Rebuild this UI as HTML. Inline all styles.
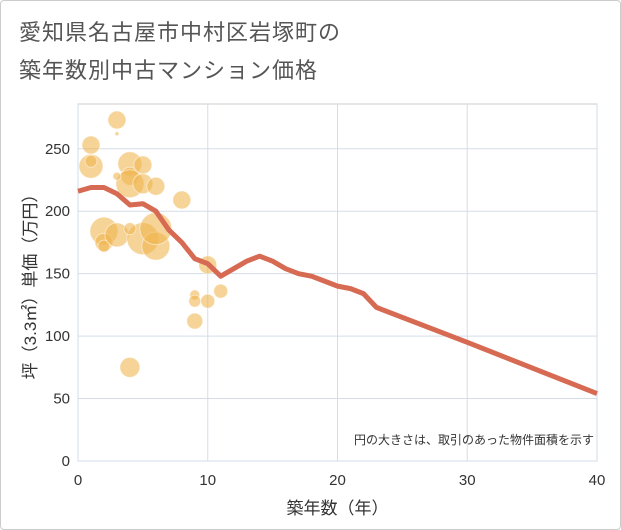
<!DOCTYPE html>
<html><head><meta charset="utf-8"><style>
body{margin:0;background:#fff;font-family:"Liberation Sans","Noto Sans CJK JP",sans-serif}
#wrap{position:relative;width:619px;height:528px;border:1px solid #ccc;border-radius:4px;overflow:hidden}
.t{position:absolute;left:18px;font-size:22px;color:#555;letter-spacing:1px}
</style></head><body>
<div id="wrap">
<div class="t" style="top:14px">愛知県名古屋市中村区岩塚町の</div>
<div class="t" style="top:52px">築年数別中古マンション価格</div>
<svg id="c" width="621" height="530" style="position:absolute;left:-1px;top:-1px"></svg>
</div>
<script>
const lineYears=[0,1,2,3,4,5,6,7,8,9,10,11,12,13,14,15,16,17,18,19,20,21,22,23,30,40];
const lineValues=[216,219,219,214,205,206,200,185,175,162,158,148,154,160,164,160,154,150,148,144,140,138,134,123,95,54];
const bubbleYears=[1,1,1,3,3,2,2,2,3,4,4,5,4,5,6,3,8,5,6,6,4,10,9,9,10,11,9,4];
const bubbleValues=[253,236,240,273,262,184,175,172,181,238,228,237,222,222,220,228,209,178,172,186,186,157,133,128,128,136,112,75];
const bubbleSizes=[9,12,6,9,2,14,9,6,12,12,9,9,14,10,9,4,9,16,14,16,6,9,5,6,7,7,8,10];
const xTicks=[0,10,20,30,40];
const yTicks=[0,50,100,150,200,250];
const NS="http://www.w3.org/2000/svg";
const svg=document.getElementById('c');
const X0=78,X1=597,Y0=461,YT=104;
const xs=v=>X0+(v/40)*(X1-X0);
const ys=v=>Y0-v*1.249;
function mk(t,a){const e=document.createElementNS(NS,t);for(const k in a)e.setAttribute(k,a[k]);svg.appendChild(e);return e;}
let bg=mk('rect',{x:X0,y:YT,width:X1-X0,height:Y0-YT,fill:'#fff',stroke:'#ccc'});


xTicks.forEach(v=>{
 const g=mk('line',{x1:xs(v),x2:xs(v),y1:YT,y2:Y0,stroke:'#d3dde8'});
 
 
 const t=mk('text',{x:xs(v),y:Y0+24,'text-anchor':'middle','font-size':15,fill:'#333'});
 t.textContent=v;
 
 
});
yTicks.forEach(v=>{
 const g=mk('line',{x1:X0,x2:X1,y1:ys(v),y2:ys(v),stroke:'#d3dde8'});
 
 
 const t=mk('text',{x:X0-8,y:ys(v)+5,'text-anchor':'end','font-size':15,fill:'#333'});
 t.textContent=v;
 
 
});
bubbleYears.forEach((yr,i)=>{
 const c=mk('circle',{cx:xs(yr),cy:ys(bubbleValues[i]),r:bubbleSizes[i],fill:'#f0b650','fill-opacity':0.6,stroke:'#fff','stroke-opacity':0.5});
 
 
});
const p=mk('polyline',{points:lineYears.map((y,i)=>xs(y)+','+ys(lineValues[i])).join(' '),fill:'none',stroke:'#d66a52','stroke-width':5,'stroke-linejoin':'round'});


const n=mk('text',{x:X1-3,y:Y0-17,'text-anchor':'end','font-size':12,fill:'#333'});
n.textContent='円の大きさは、取引のあった物件面積を示す';


const xt=mk('text',{x:(X0+X1)/2,y:514,'text-anchor':'middle','font-size':17,fill:'#333'});
xt.textContent='築年数（年）';


const yt=mk('text',{x:0,y:0,'text-anchor':'middle','font-size':17,fill:'#333',transform:'translate(36,'+((YT+Y0)/2)+') rotate(-90)'});
yt.textContent='坪（3.3㎡）単価（万円）';


</script>
</body></html>
